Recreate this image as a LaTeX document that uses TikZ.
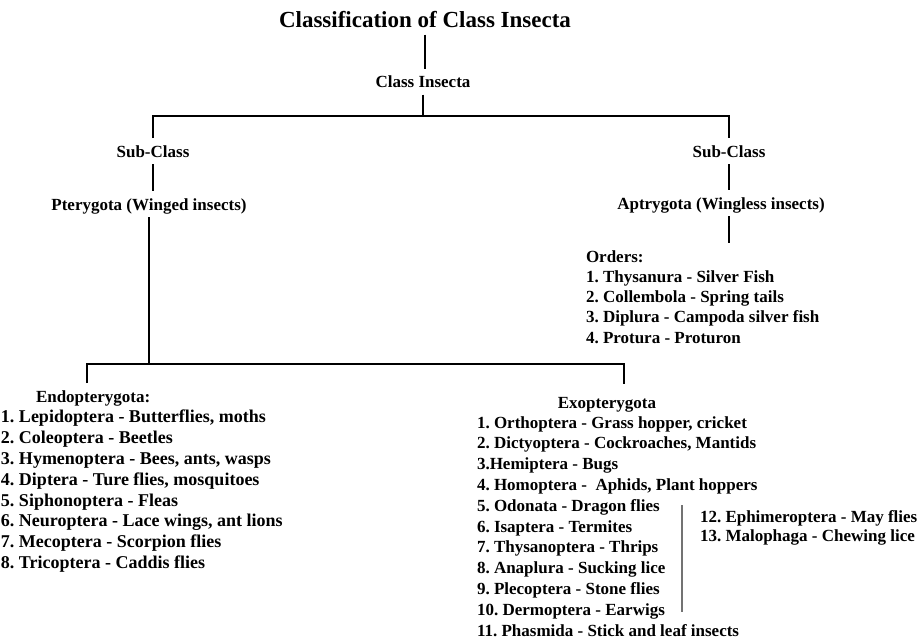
\documentclass[tikz,border=0pt]{standalone}
\usepackage{fontspec}
\setmainfont{Liberation Serif}
\usetikzlibrary{positioning}
\frenchspacing
\tikzset{%
   lbl/.style={font=\fontsize{17}{20}\selectfont\bfseries, inner sep=0pt,
     outer xsep=0pt, outer ysep=7pt, text height=12pt, text depth=0pt},
   item/.style={lbl, anchor=base west},
   bigitem/.style={item, font=\fontsize{18}{21}\selectfont\bfseries},
   head/.style={lbl, anchor=base},
   link/.style={draw=black, line width=1.9pt},
   sepline/.style={draw=black!55, line width=1.2pt},
}

\begin{document}
\begin{tikzpicture}[x=1pt, y=-1pt]
   \useasboundingbox (0,0) rectangle (919,643);
   % tree heads
   \node[head, font=\fontsize{23}{26}\selectfont\bfseries, text height=16pt] (title) at (425,27.5) {Classification of Class Insecta};
   \node[head] (insecta) at (423,87.5) {Class Insecta};
   \node[head] (lsub) at (153,157) {Sub-Class};
   \node[head] (rsub) at (729,157) {Sub-Class};
   \node[head] (ptery) at (149,210) {Pterygota (Winged insects)};
   \node[head] (aptery) at (721,209) {Aptrygota (Wingless insects)};
   \node[item] (orders) at (586,262) {Orders:};
   \node[item] (endohead) at (36,402) {Endopterygota:};
   \node[head] (exohead) at (607,408) {Exopterygota};
   \coordinate (topbar) at (423,116);
   \coordinate (lowbar) at (150,364);
   % orders of the wingless insects
   \foreach \txt [count=\i] in {1. Thysanura - Silver Fish, 2. Collembola - Spring tails,
       3. Diplura - Campoda silver fish, 4. Protura - Proturon}
     \node[item] (ord\i) at (586,{262+\i*20.3}) {\txt};
   % endopterygota
   \foreach \txt [count=\i] in {{1. Lepidoptera - Butterflies, moths}, 2. Coleoptera - Beetles,
       {3. Hymenoptera - Bees, ants, wasps}, {4. Diptera - Ture flies, mosquitoes},
       5. Siphonoptera - Fleas, {6. Neuroptera - Lace wings, ant lions},
       7. Mecoptera - Scorpion flies, 8. Tricoptera - Caddis flies}
     \node[bigitem] (endo\i) at (1,{402+\i*20.8}) {\txt};
   % exopterygota
   \foreach \txt [count=\i] in {{1. Orthoptera - Grass hopper, cricket}, {2. Dictyoptera - Cockroaches, Mantids},
       3.Hemiptera - Bugs, {4. Homoptera - \ Aphids, Plant hoppers}, 5. Odonata - Dragon flies,
       6. Isaptera - Termites, 7. Thysanoptera - Thrips, 8. Anaplura - Sucking lice,
       9. Plecoptera - Stone flies, 10. Dermoptera - Earwigs, 11. Phasmida - Stick and leaf insects}
     \node[item] (exo\i) at (477,{407.2+\i*20.8}) {\txt};
   \node[item] (exo12) at (700,522) {12. Ephimeroptera - May flies};
   \node[item] (exo13) at (700,541.5) {13. Malophaga - Chewing lice};
   % connectors
   \draw[link] (title.south) -- (title.south |- insecta.north);
   \draw[link] (insecta.south) -- (insecta.south |- topbar);
   \draw[link] (lsub.north) |- (topbar) -| (rsub.north);
   \draw[link] (lsub.south) -- (lsub.south |- ptery.north);
   \draw[link] (rsub.south) -- (rsub.south |- aptery.north);
   \draw[link] (rsub.south |- aptery.south) -- (rsub.south |- orders.north);
   \draw[link] (ptery.south) -- (ptery.south |- lowbar);
   \draw[link, shorten >=5pt] ([xshift=-6pt]endohead.north) |- (lowbar) -| ([xshift=17pt]exohead.north);
   \draw[sepline] (682,505) -- (682,612);
\end{tikzpicture}
\end{document}
